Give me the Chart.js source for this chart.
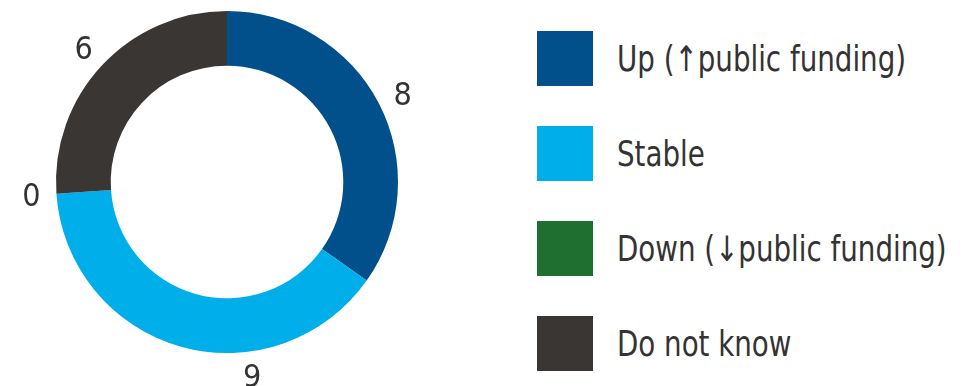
<!DOCTYPE html>
<html>
<head>
<meta charset="utf-8">
<script src="https://cdn.jsdelivr.net/npm/chart.js@4.4.1/dist/chart.umd.min.js"></script>
<style>
  html, body { margin: 0; padding: 0; background: #fff; }
  #wrap { position: relative; width: 979px; height: 386px; overflow: hidden; }
  #chartBox { position: absolute; left: 0; top: 0; width: 454px; height: 386px; }
  #legend { position: absolute; left: 537px; top: 31px; margin: 0; padding: 0; list-style: none;
    font-family: "DejaVu Sans Condensed", "DejaVu Sans", sans-serif; }
  #legend li { display: flex; align-items: center; height: 55px; margin-bottom: 40px;
    font-size: 35px; color: #333; white-space: nowrap; }
  #legend span.box { display: inline-block; width: 56px; height: 55px; margin-right: 24px; flex: none; }
  #legend span.txt { display: inline-block; transform: scaleX(0.88); transform-origin: left center; }
</style>
</head>
<body>
<div id="wrap">
  <div id="chartBox"><canvas id="answers"></canvas></div>
  <ul id="legend"></ul>
</div>
<script>
const categories = ['Up (\u2191public funding)', 'Stable', 'Down (\u2193public funding)', 'Do not know'];
const counts = [8, 9, 0, 6];
const colors = ['#02508b', '#00aeea', '#1e6f30', '#393633'];

// small angle nudge (degrees) for the value labels, the 9 sits left of its slice middle
const labelNudge = [1, -23, 0, 0];

const valueLabels = {
  id: 'valueLabels',
  afterDatasetsDraw(chart) {
    const ctx = chart.ctx;
    const meta = chart.getDatasetMeta(0);
    ctx.save();
    ctx.font = '32px "DejaVu Sans Condensed", sans-serif';
    ctx.fillStyle = '#333';
    ctx.textAlign = 'center';
    ctx.textBaseline = 'middle';
    meta.data.forEach(function(arc, i) {
      const p = arc.getProps(['x', 'y', 'startAngle', 'endAngle', 'outerRadius'], true);
      const mid = (p.startAngle + p.endAngle) / 2 + labelNudge[i] * Math.PI / 180;
      const r = p.outerRadius + 25;
      ctx.fillText(String(counts[i]), p.x + Math.cos(mid) * r, p.y + Math.sin(mid) * r + 2);
    });
    ctx.restore();
  }
};

new Chart(document.getElementById('answers'), {
  type: 'doughnut',
  data: {
    labels: categories,
    datasets: [{
      data: counts,
      backgroundColor: colors,
      borderWidth: 0
    }]
  },
  options: {
    responsive: true,
    maintainAspectRatio: false,
    animation: false,
    cutout: '68%',
    layout: { padding: { top: 11, bottom: 33, left: 0, right: 0 } },
    plugins: {
      legend: { display: false },
      tooltip: { enabled: false }
    }
  },
  plugins: [valueLabels]
});

const legend = document.getElementById('legend');
categories.forEach(function(name, i) {
  const li = document.createElement('li');
  const box = document.createElement('span');
  box.className = 'box';
  box.style.background = colors[i];
  const txt = document.createElement('span');
  txt.className = 'txt';
  txt.textContent = name;
  li.appendChild(box);
  li.appendChild(txt);
  legend.appendChild(li);
});
</script>
</body>
</html>
